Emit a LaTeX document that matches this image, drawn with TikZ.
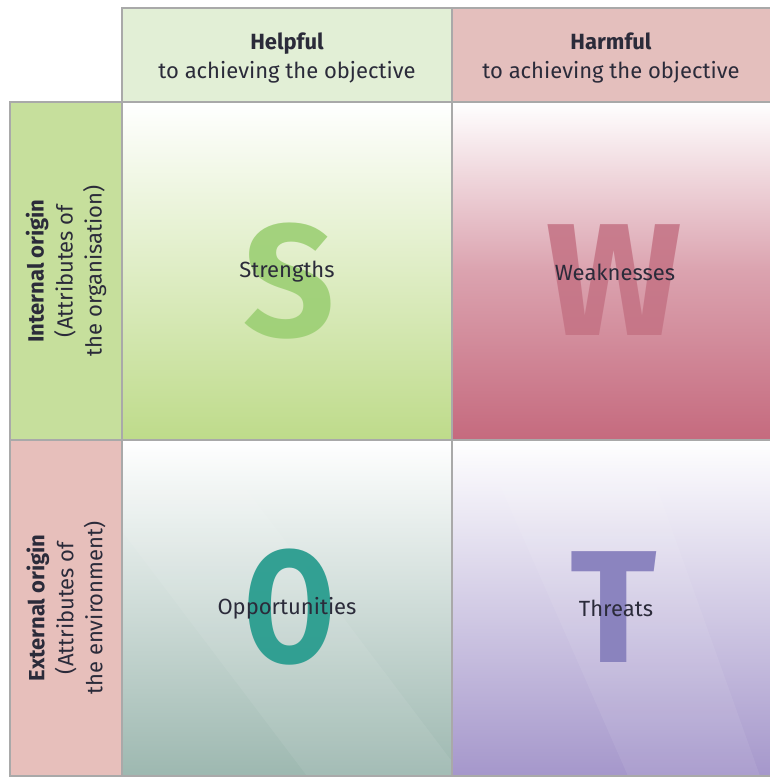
\documentclass[tikz,border=0pt]{standalone}
\usepackage{fontspec}
\setmainfont{Fira Sans}
\begin{document}
\begin{tikzpicture}[x=1pt,y=-1pt,
  gridline/.style={draw=gridgray,line width=2.6pt},
  cellbox/.style={inner sep=0pt,outer sep=0pt,anchor=north west},
  bigletter/.style={font=\fontsize{160}{160}\selectfont\bfseries,inner sep=0pt,anchor=center},
  celltext/.style={font=\fontsize{22}{26}\selectfont,text=inkdark,inner sep=0pt},
  headtext/.style={font=\fontsize{22}{29}\selectfont,text=inkdark,align=center,inner sep=0pt},
  sidetext/.style={font=\fontsize{22}{29}\selectfont,text=inkdark,align=center,inner sep=0pt,rotate=90},
  band/.style={fill=white,fill opacity=0.07}
]
\definecolor{gridgray}{HTML}{A9A9A9}
\definecolor{inkdark}{HTML}{2B2B3A}
\definecolor{headgreen}{HTML}{E2EFD6}
\definecolor{headpink}{HTML}{E4BFBD}
\definecolor{sidegreen}{HTML}{C6DF9C}
\definecolor{sidepink}{HTML}{E7BFBB}
\definecolor{sfill}{HTML}{BEDB8A}
\definecolor{wfill}{HTML}{C56A7E}
\definecolor{ofill}{HTML}{9DB8B0}
\definecolor{tfill}{HTML}{A597CB}
\definecolor{sletter}{HTML}{9CCF74}
\definecolor{wletter}{HTML}{C47284}
\definecolor{oletter}{HTML}{2A9D8F}
\definecolor{tletter}{HTML}{8780BD}

\useasboundingbox (0,0) rectangle (770,780);
\fill[white] (0,0) rectangle (770,780);

% header row
\node[cellbox,fill=headgreen,minimum width=330pt,minimum height=94pt] (help) at (122,8) {};
\node[cellbox,fill=headpink,minimum width=318pt,minimum height=94pt] (harm) at (452,8) {};
% side column
\node[cellbox,fill=sidegreen,minimum width=112pt,minimum height=338pt] (int) at (10,102) {};
\node[cellbox,fill=sidepink,minimum width=112pt,minimum height=336pt] (ext) at (10,440) {};
% the four quadrants
\node[cellbox,top color=white,bottom color=sfill,middle color=sfill!50,minimum width=330pt,minimum height=338pt] (S) at (122,102) {};
\node[cellbox,top color=white,bottom color=wfill,middle color=wfill!62,minimum width=318pt,minimum height=338pt] (W) at (452,102) {};
\node[cellbox,top color=white,bottom color=ofill,middle color=ofill!50,minimum width=330pt,minimum height=336pt] (O) at (122,440) {};
\node[cellbox,top color=white,bottom color=tfill,middle color=tfill!50,minimum width=318pt,minimum height=336pt] (T) at (452,440) {};

% faint diagonal bands in the lower quadrants
\begin{scope}
  \clip (O.north west) rectangle (O.south east);
  \fill[band] (53,440) -- (307,776) -- (463,776) -- (209,440) -- cycle;
\end{scope}
\begin{scope}
  \clip (T.north west) rectangle (T.south east);
  \fill[band] (480,440) -- (628,776) -- (760,776) -- (640,440) -- cycle;
\end{scope}

% large letters
\node[bigletter,text=sletter,text opacity=0.9] (Sl) at (289,281) {S};
\node[bigletter,text=wletter,text opacity=0.85] (Wl) at (614,280) {W};
\node[bigletter,text=oletter,text opacity=0.95,xscale=0.82] (Ol) at (290,607) {O};
\node[bigletter,text=tletter,text opacity=0.95] (Tl) at (614,607) {T};

% quadrant labels
\node[celltext] (Sx) at (287,272) {Strengths};
\node[celltext] (Wx) at (615,272) {Weaknesses};
\node[celltext] (Ox) at (287,608) {Opportunities};
\node[celltext] (Tx) at (616,608) {Threats};

% header labels
\node[headtext] (helptx) at ([yshift=-3pt]help.center) {\textbf{Helpful}\\to achieving the objective};
\node[headtext] (harmtx) at ([yshift=-3pt]harm.center) {\textbf{Harmful}\\to achieving the objective};
% side labels
\node[sidetext] (inttx) at (int.center) {\textbf{Internal origin}\\(Attributes of\\the organisation)};
\node[sidetext] (exttx) at (ext.center) {\textbf{External origin}\\(Attributes of\\the environment)};

% grid lines
\draw[gridline] (help.south west) -- (help.north west) -- (harm.north east);
\draw[gridline] (help.north east) -- (T.south west);
\draw[gridline] (int.north east) -- (harm.south east);
\draw[gridline] (int.north east) -- (int.north west) -- (ext.south west) -- (T.south east);
\draw[gridline] (int.south west) -- (W.south east);
\draw[gridline] (int.north east) -- (ext.south east);
\end{tikzpicture}
\end{document}
